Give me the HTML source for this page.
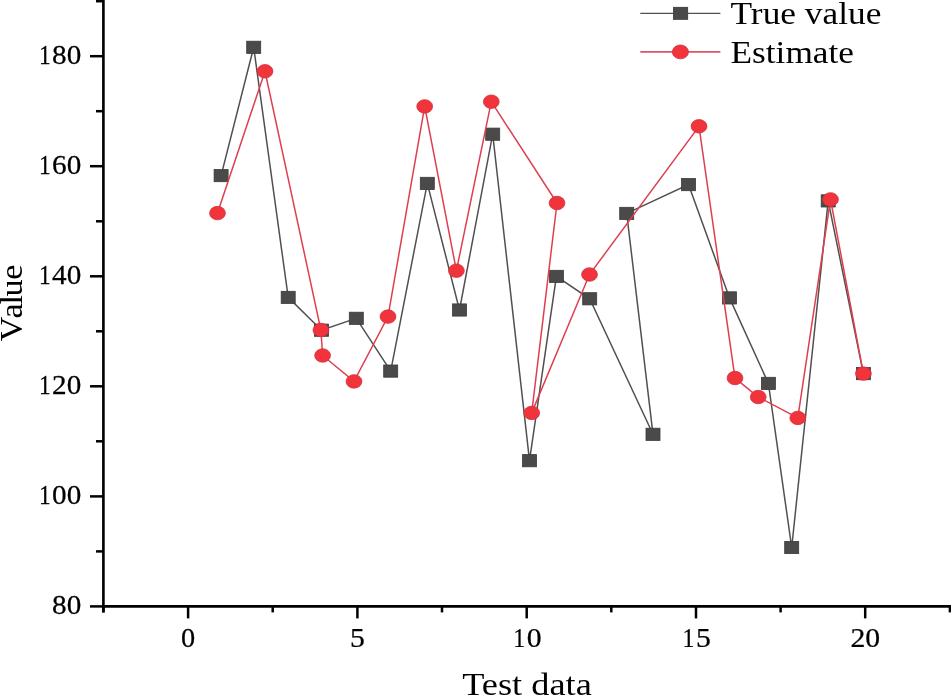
<!DOCTYPE html>
<html><head><meta charset="utf-8"><style>
html,body{margin:0;padding:0;background:#fff;width:951px;height:696px;overflow:hidden;}
svg{display:block;will-change:transform;}
text{font-family:"Liberation Serif",serif;}

</style></head><body>
<svg width="951" height="696" viewBox="0 0 951 696">
<rect width="951" height="696" fill="#fff"/>
<g stroke="#000" stroke-width="2.65" fill="none">
<line x1="103.4" y1="0" x2="103.4" y2="612.4"/>
<line x1="102.0" y1="606.4" x2="951" y2="606.4"/>
</g>
<g stroke="#000" stroke-width="2.5" fill="none">
<line x1="90.0" y1="606.4" x2="103.4" y2="606.4"/>
<line x1="96.0" y1="551.4" x2="103.4" y2="551.4"/>
<line x1="90.0" y1="496.4" x2="103.4" y2="496.4"/>
<line x1="96.0" y1="441.3" x2="103.4" y2="441.3"/>
<line x1="90.0" y1="386.3" x2="103.4" y2="386.3"/>
<line x1="96.0" y1="331.3" x2="103.4" y2="331.3"/>
<line x1="90.0" y1="276.3" x2="103.4" y2="276.3"/>
<line x1="96.0" y1="221.3" x2="103.4" y2="221.3"/>
<line x1="90.0" y1="166.2" x2="103.4" y2="166.2"/>
<line x1="96.0" y1="111.2" x2="103.4" y2="111.2"/>
<line x1="90.0" y1="56.2" x2="103.4" y2="56.2"/>
<line x1="96.0" y1="1.2" x2="103.4" y2="1.2"/>
<line x1="103.4" y1="606.4" x2="103.4" y2="612.4"/>
<line x1="188.1" y1="606.4" x2="188.1" y2="618.4"/>
<line x1="272.7" y1="606.4" x2="272.7" y2="612.4"/>
<line x1="357.4" y1="606.4" x2="357.4" y2="618.4"/>
<line x1="442.0" y1="606.4" x2="442.0" y2="612.4"/>
<line x1="526.7" y1="606.4" x2="526.7" y2="618.4"/>
<line x1="611.3" y1="606.4" x2="611.3" y2="612.4"/>
<line x1="696.0" y1="606.4" x2="696.0" y2="618.4"/>
<line x1="780.6" y1="606.4" x2="780.6" y2="612.4"/>
<line x1="865.2" y1="606.4" x2="865.2" y2="618.4"/>
<line x1="949.9" y1="606.4" x2="949.9" y2="612.4"/>
</g>
<g font-family="Liberation Serif" font-size="27" fill="#000" stroke="#000" stroke-width="0.25">
<text transform="translate(59.33,613.90) scale(1.080,1)" text-anchor="middle">8</text><text transform="translate(73.91,613.90) scale(1.080,1)" text-anchor="middle">0</text>
<text transform="translate(44.75,503.86) scale(0.864,1)" text-anchor="middle">1</text><text transform="translate(59.33,503.86) scale(1.080,1)" text-anchor="middle">0</text><text transform="translate(73.91,503.86) scale(1.080,1)" text-anchor="middle">0</text>
<text transform="translate(44.75,393.82) scale(0.864,1)" text-anchor="middle">1</text><text transform="translate(59.33,393.82) scale(1.080,1)" text-anchor="middle">2</text><text transform="translate(73.91,393.82) scale(1.080,1)" text-anchor="middle">0</text>
<text transform="translate(44.75,283.78) scale(0.864,1)" text-anchor="middle">1</text><text transform="translate(59.33,283.78) scale(1.080,1)" text-anchor="middle">4</text><text transform="translate(73.91,283.78) scale(1.080,1)" text-anchor="middle">0</text>
<text transform="translate(44.75,173.74) scale(0.864,1)" text-anchor="middle">1</text><text transform="translate(59.33,173.74) scale(1.080,1)" text-anchor="middle">6</text><text transform="translate(73.91,173.74) scale(1.080,1)" text-anchor="middle">0</text>
<text transform="translate(44.75,63.70) scale(0.864,1)" text-anchor="middle">1</text><text transform="translate(59.33,63.70) scale(1.080,1)" text-anchor="middle">8</text><text transform="translate(73.91,63.70) scale(1.080,1)" text-anchor="middle">0</text>
<text transform="translate(188.05,646.50) scale(1.050,1)" text-anchor="middle">0</text>
<text transform="translate(357.35,646.50) scale(1.100,1)" text-anchor="middle">5</text>
<text transform="translate(519.23,646.50) scale(0.880,1)" text-anchor="middle">1</text><text transform="translate(534.08,646.50) scale(1.100,1)" text-anchor="middle">0</text>
<text transform="translate(688.52,646.50) scale(0.880,1)" text-anchor="middle">1</text><text transform="translate(703.38,646.50) scale(1.100,1)" text-anchor="middle">5</text>
<text transform="translate(857.82,646.50) scale(1.100,1)" text-anchor="middle">2</text><text transform="translate(872.67,646.50) scale(1.100,1)" text-anchor="middle">0</text>
</g>
<text font-family="Liberation Serif" font-size="31.5" transform="translate(527,695.2) scale(1.154,1)" text-anchor="middle">Test data</text>
<text font-family="Liberation Serif" font-size="34.3" transform="translate(22.25,341.4) rotate(-90) scale(1,0.95)" x="0 22.9 36.9 44.8 61.7" y="0">Value</text>
<polyline fill="none" stroke="#505050" stroke-width="1.5" points="221.1,175.6 253.7,47.3 288.2,297.4 321.5,330.2 356.3,318.3 390.7,371.1 427.3,183.4 459.5,310 492.7,134.2 529.5,460.7 556.4,276.4 589.7,298.8 653,434.3 626.7,213.4 688.5,184.6 729.5,297.9 768.4,383.4 791.7,547.5 828.2,200.9 863.4,373.6"/>
<rect x="214.10" y="169.50" width="14.0" height="12.2" fill="#4a4a4a" stroke="#3b3b3b" stroke-width="0.8"/>
<rect x="246.70" y="41.20" width="14.0" height="12.2" fill="#4a4a4a" stroke="#3b3b3b" stroke-width="0.8"/>
<rect x="281.20" y="291.30" width="14.0" height="12.2" fill="#4a4a4a" stroke="#3b3b3b" stroke-width="0.8"/>
<rect x="314.50" y="324.10" width="14.0" height="12.2" fill="#4a4a4a" stroke="#3b3b3b" stroke-width="0.8"/>
<rect x="349.30" y="312.20" width="14.0" height="12.2" fill="#4a4a4a" stroke="#3b3b3b" stroke-width="0.8"/>
<rect x="383.70" y="365.00" width="14.0" height="12.2" fill="#4a4a4a" stroke="#3b3b3b" stroke-width="0.8"/>
<rect x="420.30" y="177.30" width="14.0" height="12.2" fill="#4a4a4a" stroke="#3b3b3b" stroke-width="0.8"/>
<rect x="452.50" y="303.90" width="14.0" height="12.2" fill="#4a4a4a" stroke="#3b3b3b" stroke-width="0.8"/>
<rect x="485.70" y="128.10" width="14.0" height="12.2" fill="#4a4a4a" stroke="#3b3b3b" stroke-width="0.8"/>
<rect x="522.50" y="454.60" width="14.0" height="12.2" fill="#4a4a4a" stroke="#3b3b3b" stroke-width="0.8"/>
<rect x="549.40" y="270.30" width="14.0" height="12.2" fill="#4a4a4a" stroke="#3b3b3b" stroke-width="0.8"/>
<rect x="582.70" y="292.70" width="14.0" height="12.2" fill="#4a4a4a" stroke="#3b3b3b" stroke-width="0.8"/>
<rect x="646.00" y="428.20" width="14.0" height="12.2" fill="#4a4a4a" stroke="#3b3b3b" stroke-width="0.8"/>
<rect x="619.70" y="207.30" width="14.0" height="12.2" fill="#4a4a4a" stroke="#3b3b3b" stroke-width="0.8"/>
<rect x="681.50" y="178.50" width="14.0" height="12.2" fill="#4a4a4a" stroke="#3b3b3b" stroke-width="0.8"/>
<rect x="722.50" y="291.80" width="14.0" height="12.2" fill="#4a4a4a" stroke="#3b3b3b" stroke-width="0.8"/>
<rect x="761.40" y="377.30" width="14.0" height="12.2" fill="#4a4a4a" stroke="#3b3b3b" stroke-width="0.8"/>
<rect x="784.70" y="541.40" width="14.0" height="12.2" fill="#4a4a4a" stroke="#3b3b3b" stroke-width="0.8"/>
<rect x="821.20" y="194.80" width="14.0" height="12.2" fill="#4a4a4a" stroke="#3b3b3b" stroke-width="0.8"/>
<rect x="856.40" y="367.50" width="14.0" height="12.2" fill="#4a4a4a" stroke="#3b3b3b" stroke-width="0.8"/>
<polyline fill="none" stroke="#dd3f4f" stroke-width="1.5" points="217.5,213.1 265.0,71.3 320.9,330 322.6,355.5 354,381.4 388,316.6 424.7,106.4 456.4,270.7 491.3,101.7 557,203 531.7,412.9 589.5,274.5 699,126.3 735,378 758.2,397 797.8,417.9 830.5,199.4 863.4,373.6"/>
<ellipse cx="217.5" cy="213.1" rx="7.9" ry="6.75" fill="#f1343b" stroke="#d22f3b" stroke-width="0.8"/>
<ellipse cx="265.0" cy="71.3" rx="7.9" ry="6.75" fill="#f1343b" stroke="#d22f3b" stroke-width="0.8"/>
<ellipse cx="320.9" cy="330" rx="7.9" ry="6.75" fill="#f1343b" stroke="#d22f3b" stroke-width="0.8"/>
<ellipse cx="322.6" cy="355.5" rx="7.9" ry="6.75" fill="#f1343b" stroke="#d22f3b" stroke-width="0.8"/>
<ellipse cx="354" cy="381.4" rx="7.9" ry="6.75" fill="#f1343b" stroke="#d22f3b" stroke-width="0.8"/>
<ellipse cx="388" cy="316.6" rx="7.9" ry="6.75" fill="#f1343b" stroke="#d22f3b" stroke-width="0.8"/>
<ellipse cx="424.7" cy="106.4" rx="7.9" ry="6.75" fill="#f1343b" stroke="#d22f3b" stroke-width="0.8"/>
<ellipse cx="456.4" cy="270.7" rx="7.9" ry="6.75" fill="#f1343b" stroke="#d22f3b" stroke-width="0.8"/>
<ellipse cx="491.3" cy="101.7" rx="7.9" ry="6.75" fill="#f1343b" stroke="#d22f3b" stroke-width="0.8"/>
<ellipse cx="557" cy="203" rx="7.9" ry="6.75" fill="#f1343b" stroke="#d22f3b" stroke-width="0.8"/>
<ellipse cx="531.7" cy="412.9" rx="7.9" ry="6.75" fill="#f1343b" stroke="#d22f3b" stroke-width="0.8"/>
<ellipse cx="589.5" cy="274.5" rx="7.9" ry="6.75" fill="#f1343b" stroke="#d22f3b" stroke-width="0.8"/>
<ellipse cx="699" cy="126.3" rx="7.9" ry="6.75" fill="#f1343b" stroke="#d22f3b" stroke-width="0.8"/>
<ellipse cx="735" cy="378" rx="7.9" ry="6.75" fill="#f1343b" stroke="#d22f3b" stroke-width="0.8"/>
<ellipse cx="758.2" cy="397" rx="7.9" ry="6.75" fill="#f1343b" stroke="#d22f3b" stroke-width="0.8"/>
<ellipse cx="797.8" cy="417.9" rx="7.9" ry="6.75" fill="#f1343b" stroke="#d22f3b" stroke-width="0.8"/>
<ellipse cx="830.5" cy="199.4" rx="7.9" ry="6.75" fill="#f1343b" stroke="#d22f3b" stroke-width="0.8"/>
<ellipse cx="863.4" cy="373.6" rx="7.9" ry="6.75" fill="#f1343b" stroke="#d22f3b" stroke-width="0.8"/>
<line x1="640.3" y1="13.4" x2="720.4" y2="13.4" stroke="#505050" stroke-width="1.2"/>
<rect x="673" y="6.9" width="15.1" height="13" fill="#4a4a4a"/>
<line x1="640.3" y1="51.9" x2="720.4" y2="51.9" stroke="#d55a66" stroke-width="1.6"/>
<ellipse cx="680.4" cy="51.9" rx="8.05" ry="6.95" fill="#f1343b" stroke="#d22f3b" stroke-width="0.8"/>
<text font-family="Liberation Serif" font-size="32" transform="translate(730.5,23.6) scale(1.106,1)">True value</text>
<text font-family="Liberation Serif" font-size="32" transform="translate(730.5,63.3) scale(1.103,1)">Estimate</text>
</svg>
</body></html>
